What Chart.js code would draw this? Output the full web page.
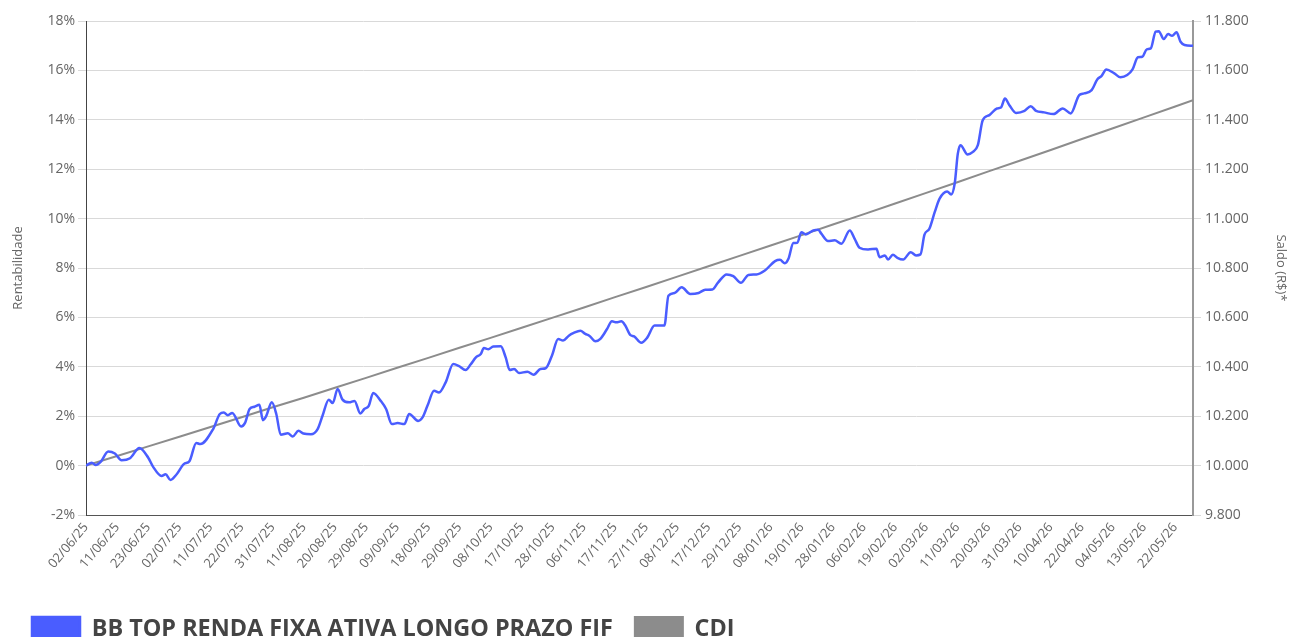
<!DOCTYPE html>
<html lang="pt-BR">
<head>
<meta charset="utf-8">
<title>Rentabilidade</title>
<script src="https://cdn.jsdelivr.net/npm/chart.js@4.4.1/dist/chart.umd.min.js"></script>
<style>
  html, body { margin: 0; padding: 0; background: #fff; overflow: hidden; }
  #wrap { position: relative; width: 1289px; height: 651px; }
</style>
</head>
<body>
<div id="wrap"><canvas id="grafico"></canvas></div>
<script>
// Datas exibidas no eixo X (uma a cada 7 dias úteis)
const tickLabels = ['02/06/25', '11/06/25', '23/06/25', '02/07/25', '11/07/25', '22/07/25', '31/07/25', '11/08/25',
    '20/08/25', '29/08/25', '09/09/25', '18/09/25', '29/09/25', '08/10/25', '17/10/25', '28/10/25', '06/11/25',
    '17/11/25', '27/11/25', '08/12/25', '17/12/25', '29/12/25', '08/01/26', '19/01/26', '28/01/26', '06/02/26',
    '19/02/26', '02/03/26', '11/03/26', '20/03/26', '31/03/26', '10/04/26', '22/04/26', '04/05/26', '13/05/26',
    '22/05/26'];
const tickStep = 7;
const lastDay = 249;

// Fundo: dia útil (desde 02/06/25) e rentabilidade acumulada (%)
const fundDays = [0, 1.3, 2.2, 3.3, 5.0, 6.5, 8.0, 9.9, 12.0, 14.0, 15.1, 17.0, 17.9, 19.0, 20.4, 22.0, 23.3, 24.8,
    25.7, 28.6, 30.1, 31.0, 31.9, 32.9, 34.9, 35.8, 36.8, 37.9, 39.0, 39.8, 40.5, 41.8, 42.8, 43.8, 45.4, 46.5, 47.8,
    48.9, 50.6, 52.1, 53.2, 54.6, 55.5, 56.6, 57.7, 59.2, 60.4, 61.7, 62.6, 63.6, 64.6, 66.3, 67.5, 68.8, 70.1, 71.6,
    72.7, 74.7, 75.7, 76.8, 78.3, 79.4, 80.9, 82.6, 83.8, 85.4, 86.5, 87.7, 88.8, 89.5, 90.5, 91.6, 93.3, 94.4, 95.3,
    96.3, 97.4, 99.3, 100.7, 102.2, 103.4, 104.8, 106.2, 107.3, 108.6, 109.7, 111.2, 112.3, 113.2, 114.6, 115.7,
    117.2, 118.3, 119.3, 120.4, 121.3, 122.4, 123.3, 124.9, 126.2, 127.9, 129.2, 130.1, 131.0, 132.4, 134.0, 135.9,
    137.8, 139.3, 140.9, 142.2, 144.1, 145.6, 147.3, 149.0, 150.8, 152.7, 155.0, 156.1, 157.2, 158.0, 159.1, 160.0,
    160.9, 161.9, 163.6, 164.7, 165.4, 166.9, 168.4, 169.9, 171.8, 172.9, 174.0, 175.9, 177.8, 178.5, 179.7, 180.4,
    181.5, 182.5, 183.8, 185.5, 186.7, 187.7, 188.6, 189.7, 190.9, 192.0, 193.7, 194.6, 195.4, 196.1, 196.7, 198.3,
    199.5, 200.6, 201.7, 203.2, 204.9, 205.8, 206.7, 207.7, 209.2, 211.1, 212.5, 213.7, 215.5, 217.6, 219.7, 221.5,
    223.4, 224.5, 226.2, 227.5, 228.4, 229.5, 231.3, 232.7, 234.2, 235.4, 236.6, 237.6, 238.6, 239.5, 240.6, 241.3,
    242.4, 243.4, 244.3, 245.3, 246.2, 247.1, 249];
const fundPct = [0.00, 0.12, 0.02, 0.15, 0.57, 0.49, 0.22, 0.30, 0.71, 0.32, -0.05, -0.42, -0.35, -0.58, -0.35, 0.06,
    0.19, 0.92, 0.87, 1.48, 2.09, 2.15, 2.04, 2.13, 1.58, 1.74, 2.29, 2.38, 2.46, 1.84, 1.99, 2.56, 2.09, 1.25, 1.31,
    1.18, 1.41, 1.30, 1.27, 1.48, 2.02, 2.67, 2.53, 3.10, 2.67, 2.56, 2.62, 2.11, 2.29, 2.42, 2.94, 2.62, 2.29, 1.68,
    1.72, 1.68, 2.09, 1.81, 1.95, 2.42, 3.03, 2.96, 3.37, 4.11, 4.04, 3.87, 4.09, 4.38, 4.52, 4.76, 4.71, 4.82, 4.83,
    4.38, 3.87, 3.91, 3.75, 3.80, 3.68, 3.91, 3.94, 4.45, 5.13, 5.06, 5.26, 5.37, 5.46, 5.33, 5.26, 5.03, 5.13, 5.53,
    5.84, 5.80, 5.84, 5.67, 5.29, 5.23, 4.97, 5.17, 5.67, 5.67, 5.67, 6.88, 6.99, 7.22, 6.95, 6.99, 7.12, 7.13, 7.42,
    7.74, 7.67, 7.40, 7.72, 7.74, 7.90, 8.28, 8.33, 8.19, 8.37, 9.01, 9.02, 9.45, 9.36, 9.52, 9.55, 9.39, 9.09, 9.12,
    8.98, 9.52, 9.18, 8.82, 8.75, 8.78, 8.44, 8.51, 8.34, 8.54, 8.41, 8.34, 8.64, 8.51, 8.55, 9.35, 9.59, 10.26,
    10.81, 11.10, 10.98, 11.42, 12.63, 12.97, 12.60, 12.70, 12.97, 13.98, 14.19, 14.46, 14.50, 14.86, 14.59, 14.28,
    14.36, 14.55, 14.36, 14.30, 14.23, 14.46, 14.26, 15.00, 15.07, 15.20, 15.64, 15.77, 16.04, 15.88, 15.72, 15.81,
    16.04, 16.53, 16.55, 16.85, 16.89, 17.57, 17.59, 17.27, 17.47, 17.40, 17.54, 17.16, 17.03, 17.00];

// CDI acumulado (%)
const cdiDays = [0, 7, 14, 21, 28, 35, 42, 49, 56, 63, 70, 77, 84, 91, 98, 105, 112, 119, 126, 133, 140, 147, 154,
    161, 168, 175, 182, 189, 196, 203, 210, 217, 224, 231, 238, 245, 249];
const cdiPct = [0, 0.39, 0.78, 1.17, 1.56, 1.96, 2.36, 2.75, 3.15, 3.55, 3.96, 4.36, 4.77, 5.17, 5.58, 5.99, 6.40,
    6.82, 7.23, 7.65, 8.07, 8.49, 8.91, 9.33, 9.76, 10.18, 10.61, 11.04, 11.47, 11.91, 12.34, 12.78, 13.22, 13.66,
    14.10, 14.54, 14.79];

const fundName = 'BB TOP RENDA FIXA ATIVA LONGO PRAZO FIF';

document.addEventListener('DOMContentLoaded', () => {
    const fundColor = '#4a5dff';
    const cdiColor = '#8c8c8c';
    const tickColor = '#666';
    const gridColor = '#d9d9d9';
    const family = "'Open Sans', 'DejaVu Sans', sans-serif";

    const fundData = fundDays.map((d, i) => ({ x: d, y: fundPct[i] }));
    const cdiData = cdiDays.map((d, i) => ({ x: d, y: cdiPct[i] }));

    const ctx = document.getElementById('grafico').getContext('2d');
    new Chart(ctx, {
        type: 'line',
        data: {
            datasets: [{
                label: fundName,
                data: fundData,
                borderColor: fundColor,
                backgroundColor: fundColor,
                borderWidth: 2.5,
                pointRadius: 0,
                cubicInterpolationMode: 'monotone',
                yAxisID: 'y'
            }, {
                label: 'CDI',
                data: cdiData,
                borderColor: cdiColor,
                backgroundColor: cdiColor,
                borderWidth: 2,
                pointRadius: 0,
                yAxisID: 'y'
            }]
        },
        options: {
            responsive: true,
            maintainAspectRatio: false,
            animation: false,
            events: [],
            layout: { padding: { left: 10, top: 21, right: 0, bottom: 0 } },
            plugins: {
                tooltip: { enabled: false },
                legend: {
                    position: 'bottom',
                    align: 'start',
                    labels: {
                        boxWidth: 48,
                        boxHeight: 24,
                        padding: 22,
                        color: '#444',
                        font: { family: family, size: 23.4, weight: 'bold' }
                    }
                }
            },
            scales: {
                x: {
                    type: 'linear',
                    min: 0,
                    max: lastDay,
                    grid: { drawOnChartArea: false, drawTicks: false },
                    border: { color: '#555', width: 1 },
                    afterBuildTicks: scale => {
                        scale.ticks = tickLabels.map((_, i) => ({ value: i * tickStep }));
                    },
                    afterFit: scale => { scale.height = 80; },
                    ticks: {
                        autoSkip: false,
                        minRotation: 50,
                        maxRotation: 50,
                        padding: 5,
                        color: tickColor,
                        font: { family: family, size: 13 },
                        callback: v => tickLabels[Math.round(v / tickStep)]
                    }
                },
                y: {
                    position: 'left',
                    min: -2,
                    max: 18,
                    grid: { color: gridColor, tickLength: 8 },
                    border: { color: '#444', width: 1 },
                    afterFit: scale => { scale.width = 76; },
                    title: {
                        display: true,
                        text: 'Rentabilidade',
                        color: tickColor,
                        padding: 0,
                        font: { family: family, size: 13 }
                    },
                    ticks: {
                        stepSize: 2,
                        padding: 3,
                        color: tickColor,
                        font: { family: family, size: 14 },
                        callback: v => v + '%'
                    }
                },
                y2: {
                    position: 'right',
                    min: 9800,
                    max: 11800,
                    grid: { drawOnChartArea: false, color: gridColor, tickLength: 8 },
                    border: { color: '#999', width: 2 },
                    afterFit: scale => { scale.width = 96; },
                    title: {
                        display: true,
                        text: 'Saldo (R$)*',
                        color: tickColor,
                        padding: 0,
                        font: { family: family, size: 13 }
                    },
                    ticks: {
                        stepSize: 200,
                        padding: 4,
                        color: tickColor,
                        font: { family: family, size: 14 },
                        callback: v => v.toLocaleString('pt-BR', { minimumFractionDigits: 3, maximumFractionDigits: 3 }).replace(',000', '')
                    }
                }
            }
        }
    });
});
</script>
</body>
</html>
